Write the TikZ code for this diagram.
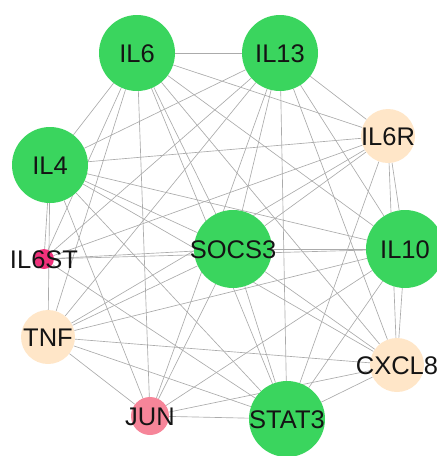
\documentclass[tikz,border=0pt]{standalone}
\usepackage{fontspec}
\setmainfont{Liberation Sans}
\usetikzlibrary{backgrounds}
\definecolor{hubgreen}{RGB}{58,213,94}
\definecolor{midbeige}{RGB}{255,230,200}
\definecolor{lowpink}{RGB}{246,133,153}
\definecolor{deeppink}{RGB}{240,49,123}
\begin{document}
\begin{tikzpicture}[x=1pt,y=-1pt,
  edge/.style={draw=black!33, line width=0.65pt},
  gnode/.style={circle, inner sep=0pt, minimum size=#1, fill=hubgreen, draw=none},
  bnode/.style={circle, inner sep=0pt, minimum size=#1, fill=midbeige, draw=none},
  pnode/.style={circle, inner sep=0pt, minimum size=#1, fill=lowpink, draw=none},
  dnode/.style={circle, inner sep=0pt, minimum size=#1, fill=deeppink, draw=none},
  lbl/.style={font=\fontsize{25.5}{27}\selectfont, inner sep=0pt, text=black!92, anchor=base}]
\useasboundingbox (0,0) rectangle (437,456);
\node[gnode=76pt] (IL6) at (137,53) {};
\node[gnode=76pt] (IL13) at (280,53) {};
\node[bnode=54pt] (IL6R) at (388,136) {};
\node[gnode=76pt] (IL4) at (50,165) {};
\node[gnode=78pt] (SOCS3) at (233,249) {};
\node[gnode=78pt] (IL10) at (405,249) {};
\node[dnode=20pt] (IL6ST) at (44,259) {};
\node[bnode=54pt] (TNF) at (48,337) {};
\node[bnode=54pt] (CXCL8) at (397,365) {};
\node[pnode=38pt] (JUN) at (150,416) {};
\node[gnode=76pt] (STAT3) at (287,419) {};
\begin{pgfonlayer}{background}
\foreach \a/\b in {IL6/IL13, IL6/IL4, IL6/SOCS3, IL6/IL10, IL6/STAT3,
  IL13/IL4, IL13/SOCS3, IL13/IL10, IL13/STAT3, IL4/SOCS3, IL4/IL10, IL4/STAT3,
  SOCS3/IL10, SOCS3/STAT3, IL10/STAT3,
  IL6R/TNF, IL6R/CXCL8, IL6R/IL6ST, TNF/CXCL8, TNF/JUN, CXCL8/JUN}
  \draw[edge] (\a) -- (\b);
\foreach \g in {IL6,IL13,IL4,SOCS3,IL10,STAT3}
  \foreach \o in {IL6R,TNF,CXCL8,JUN,IL6ST}
    \draw[edge] (\g) -- (\o);
\end{pgfonlayer}
\foreach \n in {IL6,IL13,IL6R,IL4,SOCS3,IL10,IL6ST,TNF,CXCL8,JUN,STAT3}
  \node[lbl] (\n-label) at ([yshift=-9.5pt]\n.center) {\n};
\end{tikzpicture}
\end{document}
